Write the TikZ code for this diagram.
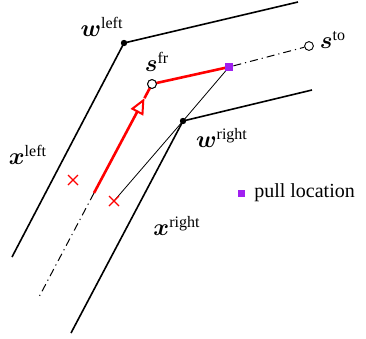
\documentclass[tikz,border=0pt]{standalone}
\usepackage{amsmath,amssymb}
\usepackage{fontspec}
\setmainfont{Liberation Serif}
\usetikzlibrary{positioning,arrows.meta,calc}
\definecolor{pullcol}{RGB}{160,32,240}

\begin{document}
\begin{tikzpicture}[
  x=0.5pt, y=-0.5pt,
  wall/.style={line width=0.8pt},
  corner/.style={circle, fill=black, inner sep=0pt, minimum size=3.2pt},
  seedpt/.style={circle, draw, fill=white, inner sep=0pt, minimum size=4.4pt, line width=0.45pt},
  pullsq/.style={fill=pullcol, inner sep=0pt, minimum size=4pt},
  redpath/.style={red, line width=1.3pt},
  trail/.style={dash pattern=on 4pt off 2pt on 0.6pt off 2pt, line width=0.5pt},
  cross/.style={red, line width=0.7pt},
  lbl/.style={inner sep=1pt, font=\large}
]
\useasboundingbox (0,0) rectangle (366,339);

% walls
\coordinate (wl-top) at (298,2);
\coordinate (wl-bot) at (12,257);
\coordinate (wr-top) at (312,90);
\coordinate (wr-bot) at (71,333);
\node[corner] (wl) at (124,43) {};
\node[corner] (wr) at (183,121) {};
\draw[wall] (wl-bot) -- (wl.center) -- (wl-top);
\draw[wall] (wr-bot) -- (wr.center) -- (wr-top);

% seed points and pull location
\coordinate (start) at (94,193);
\coordinate (tail) at (39,297);
\node[seedpt] (sfr) at (152,84) {};
\node[seedpt] (sto) at (309,46) {};
\node[pullsq] (pull) at (229,67) {};
\coordinate (xr) at (114,201);
\coordinate (xl) at (73,180);
\coordinate (tip) at ($(start)!0.87!(sfr)$);

% thin guide through the right corner
\draw[line width=0.4pt] (pull.center) -- (wr.center) -- (xr);

% paths
\draw[trail] (start) -- (tail);
\draw[trail] (pull) -- (sto);
\draw[redpath, -{Triangle[open, length=8pt, width=7pt, line width=1pt]}] (start) -- (tip);
\draw[redpath] (tip) -- (sfr.center) -- (pull.center);
\node[seedpt] at (sfr) {};
\node[pullsq] at (pull) {};

% crosses
\foreach \p in {xl, xr}
  \draw[cross] ($(\p)+(-5,-5)$) -- ($(\p)+(5,5)$)
               ($(\p)+(-5,5)$) -- ($(\p)+(5,-5)$);

% labels
\node[lbl] at (102,27) {$\boldsymbol{w}^{\text{left}}$};
\node[lbl] at (222,138) {$\boldsymbol{w}^{\text{right}}$};
\node[lbl] at (157,62) {$\boldsymbol{s}^{\text{fr}}$};
\node[lbl] at (333,40) {$\boldsymbol{s}^{\text{to}}$};
\node[lbl] at (28,155) {$\boldsymbol{x}^{\text{left}}$};
\node[lbl] at (177,226) {$\boldsymbol{x}^{\text{right}}$};

% legend
\node[pullsq, minimum size=3.5pt] (legsq) at (242,193) {};
\node[anchor=west, right=3pt of legsq, inner sep=1pt] (legtxt) {pull location};
\end{tikzpicture}
\end{document}
